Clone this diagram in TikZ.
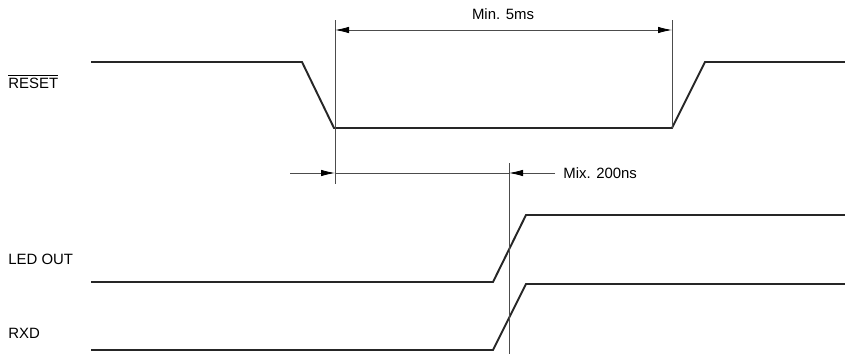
\documentclass[tikz,border=0pt]{standalone}
\usepackage{fontspec}
\setmainfont{Liberation Sans}
\usetikzlibrary{calc}
\usetikzlibrary{arrows.meta}
\tikzset{
  sig/.style={line width=1.1pt,black!85},
  guide/.style={line width=0.45pt,black!70},
  tip/.style={guide,-{Latex[length=2.8mm,width=1.3mm,black]}},
  lbl/.style={inner sep=0pt,font=\fontsize{8.5}{10}\selectfont}
}

\begin{document}
\begin{tikzpicture}[x=0.2mm,y=-0.2mm]
\useasboundingbox (0,0) rectangle (845,354);
\def\hi{62}; \def\lo{128};
% reset waveform
\coordinate (R0) at (91,\hi);
\coordinate (R1) at (302,\hi);
\coordinate (R2) at (334,\lo);
\coordinate (R3) at (672,\lo);
\coordinate (R4) at (705,\hi);
\coordinate (R5) at (845,\hi);
\draw[sig] (R0)--(R1)--(R2)--(R3)--(R4)--(R5);
% led out and rxd
\coordinate (L0) at (91,282);
\coordinate (L1) at (493,282);
\coordinate (L2) at (526,215);
\coordinate (L3) at (845,215);
\draw[sig] (L0)--(L1)--(L2)--(L3);
\coordinate (X0) at (91,350);
\coordinate (X1) at (493,350);
\coordinate (X2) at (526,284);
\coordinate (X3) at (845,284);
\draw[sig] (X0)--(X1)--(X2)--(X3);
% guide lines
\coordinate (A) at (335,20);
\coordinate (B) at (672,20);
\coordinate (C) at (509,163);
\draw[guide] (A)--(335,184);
\draw[guide] (B)--(R3);
\draw[guide] (C)--(509,354);
\draw[guide,{Latex[length=2.8mm,width=1.3mm,black]}-{Latex[length=2.8mm,width=1.3mm,black]}] ($(A)+(0,10)$)--($(B)+(0,10)$);
\node[lbl,anchor=base] (min) at (503,19) {Min. 5ms};
\coordinate (D) at (290,173);
\coordinate (E) at (555,173);
\draw[tip] (D)--(335,173);
\draw[guide] (335,173)--(509,173);
\draw[tip] (E)--(509,173);
\node[lbl,anchor=west] (mix) at (563,173) {Mix. 200ns};
% signal names
\node[lbl,anchor=base west] (reset) at (8,88) {$\overline{\mbox{RESET}}$};
\node[lbl,anchor=base west] (led) at (8,264) {LED OUT};
\node[lbl,anchor=base west] (rxd) at (8,338) {RXD};
\end{tikzpicture}
\end{document}
